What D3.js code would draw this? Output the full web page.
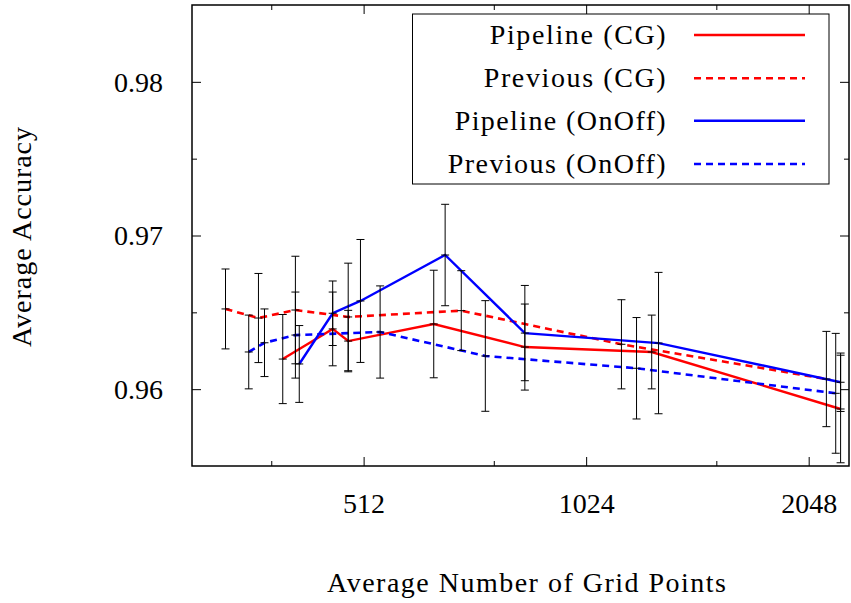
<!DOCTYPE html>
<html><head><meta charset="utf-8">
<script src="https://cdn.jsdelivr.net/npm/d3@7"></script>
<style>body{margin:0;background:#fff} svg text{font-family:"Liberation Serif","DejaVu Serif",serif !important;}</style>
</head><body><svg id="c" width="851" height="603"></svg>
<script>
const seriesNames = ["Pipeline (CG)", "Previous (CG)", "Pipeline (OnOff)", "Previous (OnOff)"];
const seriesColors = ["#ff0000", "#ff0000", "#0000ff", "#0000ff"];
const seriesDashed = [false, true, false, true];
const xPipelineCG = [398, 465, 488, 637, 846, 1256, 2262];
const yPipelineCG = [0.96196, 0.96392, 0.96313, 0.96424, 0.96274, 0.96242, 0.95871];
const ePipelineCG = [0.0029, 0.0024, 0.0020, 0.0035, 0.0028, 0.0024, 0.0035];
const xPreviousCG = [333, 369, 414, 488, 694, 1143, 2164];
const yPreviousCG = [0.96522, 0.96463, 0.96515, 0.96470, 0.96511, 0.96292, 0.96066];
const ePreviousCG = [0.0026, 0.0029, 0.0035, 0.0035, 0.0026, 0.0029, 0.0031];
const xPipelineOnOff = [419, 465, 507, 660, 846, 1283, 2262];
const yPipelineOnOff = [0.96164, 0.96494, 0.96574, 0.96873, 0.96365, 0.96300, 0.96045];
const ePipelineOnOff = [0.0025, 0.0021, 0.0040, 0.0033, 0.0031, 0.0046, 0.0019];
const xPreviousOnOff = [358, 376, 414, 539, 748, 1198, 2228];
const yPreviousOnOff = [0.96242, 0.96302, 0.96352, 0.96372, 0.96216, 0.96136, 0.95973];
const ePreviousOnOff = [0.0024, 0.0022, 0.0028, 0.0030, 0.0036, 0.0033, 0.0039];
const xTicks = [512, 1024, 2048];
const xMinorTicks = [384, 768, 1536];
const yTicks = [0.96, 0.97, 0.98];
const yMinorTicks = [0.965, 0.975];
const xTitle = "Average Number of Grid Points";
const yTitle = "Average Accuracy";

const series = [
  {x: xPipelineCG, y: yPipelineCG, e: ePipelineCG},
  {x: xPreviousCG, y: yPreviousCG, e: ePreviousCG},
  {x: xPipelineOnOff, y: yPipelineOnOff, e: ePipelineOnOff},
  {x: xPreviousOnOff, y: yPreviousOnOff, e: ePreviousOnOff}
].map((s, i) => ({
  name: seriesNames[i], color: seriesColors[i], dashed: seriesDashed[i],
  pts: s.x.map((xv, j) => ({x: xv, y: s.y[j], e: s.e[j]}))
}));

const L = 192, R = 849, T = 5, B = 466;
const svg = d3.select("#c");
const x = d3.scaleLog().base(2).domain([300, 2322]).range([L, R]);
const y = d3.scaleLinear().domain([0.955, 0.985]).range([B, T]);

function styleText(sel) {
  return sel.attr("font-size", 28).style("font-family", "'Liberation Serif', 'DejaVu Serif', serif").attr("fill", "#000");
}

// axes with inward ticks
const gx = svg.append("g").attr("transform", `translate(0,${B})`)
  .call(d3.axisBottom(x).tickValues(xTicks).tickSize(-9).tickPadding(0).tickFormat(d3.format("d")));
gx.attr("font-family", null).attr("font-size", null);
gx.select(".domain").remove();
styleText(gx.selectAll("text").attr("y", 47).attr("dy", "0"));
const gxm = svg.append("g").attr("transform", `translate(0,${B})`)
  .call(d3.axisBottom(x).tickValues(xMinorTicks).tickSize(-5).tickFormat(""));
gxm.select(".domain").remove();
const gxt = svg.append("g").attr("transform", `translate(0,${T})`)
  .call(d3.axisTop(x).tickValues(xTicks).tickSize(-9).tickFormat(""));
gxt.select(".domain").remove();
const gxtm = svg.append("g").attr("transform", `translate(0,${T})`)
  .call(d3.axisTop(x).tickValues(xMinorTicks).tickSize(-5).tickFormat(""));
gxtm.select(".domain").remove();

const gy = svg.append("g").attr("transform", `translate(${L},0)`)
  .call(d3.axisLeft(y).tickValues(yTicks).tickSize(-9).tickPadding(29).tickFormat(d3.format(".2f")));
gy.attr("font-family", null).attr("font-size", null);
gy.select(".domain").remove();
styleText(gy.selectAll("text").attr("dy", "0.33em"));
const gym = svg.append("g").attr("transform", `translate(${L},0)`)
  .call(d3.axisLeft(y).tickValues(yMinorTicks).tickSize(-5).tickFormat(""));
gym.select(".domain").remove();
const gyr = svg.append("g").attr("transform", `translate(${R},0)`)
  .call(d3.axisRight(y).tickValues(yTicks).tickSize(-9).tickFormat(""));
gyr.select(".domain").remove();
const gyrm = svg.append("g").attr("transform", `translate(${R},0)`)
  .call(d3.axisRight(y).tickValues(yMinorTicks).tickSize(-5).tickFormat(""));
gyrm.select(".domain").remove();
svg.selectAll(".tick line").attr("stroke", "#000").attr("stroke-width", 1);

// frame
svg.append("rect").attr("x", L).attr("y", T).attr("width", R - L).attr("height", B - T)
  .attr("fill", "none").attr("stroke", "#000").attr("stroke-width", 1.5);

// lines
const line = d3.line().x(d => x(d.x)).y(d => y(d.y));
series.forEach(s => {
  svg.append("path").datum(s.pts).attr("d", line).attr("fill", "none")
    .attr("stroke", s.color).attr("stroke-width", s.dashed ? 2.6 : 2.4)
    .attr("stroke-dasharray", s.dashed ? "7,5" : null);
});

// error bars
const eg = svg.append("g").attr("stroke", "#000").attr("stroke-width", 1);
series.forEach(s => {
  s.pts.forEach(p => {
    const cx = x(p.x), y0 = y(p.y - p.e), y1 = y(p.y + p.e), yc = y(p.y);
    eg.append("line").attr("x1", cx).attr("x2", cx).attr("y1", y0).attr("y2", y1);
    eg.append("line").attr("x1", cx - 4).attr("x2", cx + 4).attr("y1", y0).attr("y2", y0);
    eg.append("line").attr("x1", cx - 4).attr("x2", cx + 4).attr("y1", y1).attr("y2", y1);
    eg.append("line").attr("x1", cx - 4).attr("x2", cx + 4).attr("y1", yc).attr("y2", yc);
  });
});

// legend
const lg = svg.append("g");
lg.append("rect").attr("x", 412.5).attr("y", 14).attr("width", 416.5).attr("height", 170)
  .attr("fill", "#fff").attr("stroke", "#000").attr("stroke-width", 1);
const rowY = [35, 78.3, 120.7, 164];
const textW = [176, 182, 211, 218];
series.forEach((s, i) => {
  styleText(lg.append("text").attr("x", 665.7).attr("y", rowY[i]).attr("dy", "0.32em")
    .attr("text-anchor", "end")
    .attr("textLength", textW[i]).attr("lengthAdjust", "spacing").text(s.name));
  lg.append("line").attr("x1", 694).attr("x2", 805).attr("y1", rowY[i]).attr("y2", rowY[i])
    .attr("stroke", s.color).attr("stroke-width", s.dashed ? 2.6 : 2.4)
    .attr("stroke-dasharray", s.dashed ? "7,5" : null);
});

// titles
styleText(svg.append("text").attr("x", 526.5).attr("y", 592).attr("text-anchor", "middle")
  .attr("textLength", 399).attr("lengthAdjust", "spacing").text(xTitle));
styleText(svg.append("text").attr("transform", "translate(31,237) rotate(-90)").attr("text-anchor", "middle")
  .attr("textLength", 220).attr("lengthAdjust", "spacing").text(yTitle));
</script></body></html>
